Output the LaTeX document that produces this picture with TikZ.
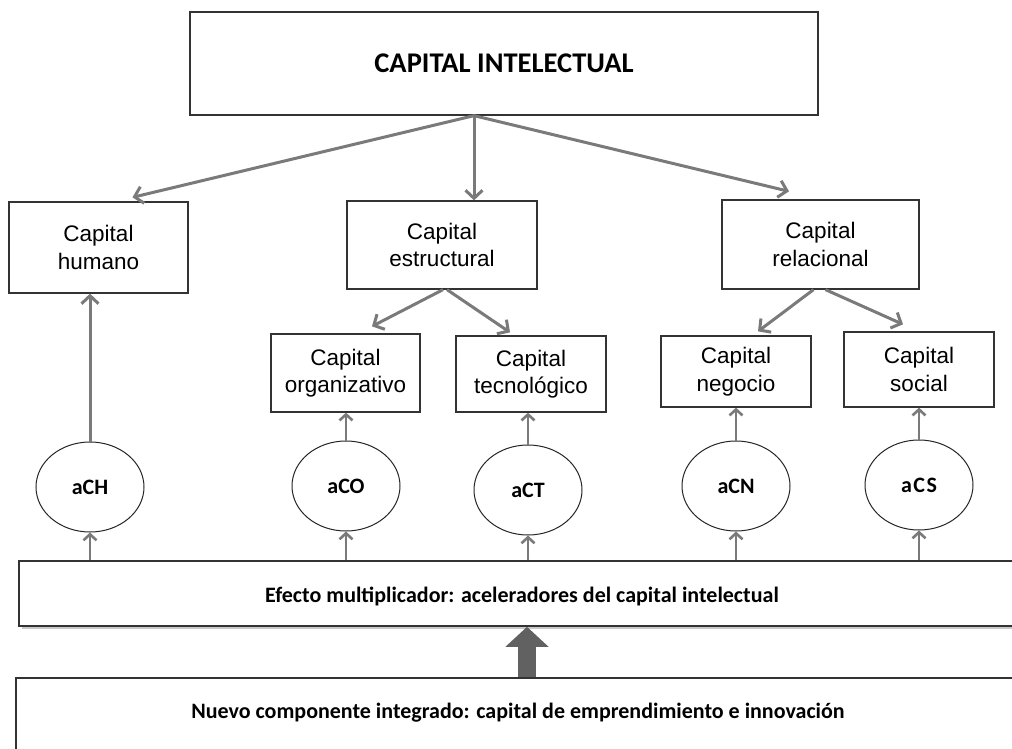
\documentclass[tikz,border=0pt]{standalone}
\usepackage{fontspec}
\setmainfont{Liberation Sans}
\newfontfamily\calfont{Carlito}
\usetikzlibrary{arrows.meta,shapes.geometric,shadows}

\tikzset{
  box/.style={draw=black!80, line width=1.3pt, fill=white, align=center,
    inner sep=0pt, font=\fontsize{22.5}{27.5}\selectfont},
  acc/.style={ellipse, draw=black!85, line width=1pt, fill=white,
    minimum width=108pt, minimum height=90pt, inner sep=0pt,
    font=\calfont\bfseries\fontsize{22}{26}\selectfont},
  band/.style={draw=black!80, line width=1.6pt, fill=white, inner sep=0pt},
  bandtext/.style={font=\calfont\bfseries\fontsize{22}{26}\selectfont},
  conn/.style={draw=black!52, line width=3pt,
    -{Straight Barb[length=8pt,width=17pt,line width=3pt]}},
  feed/.style={draw=black!52, line width=2.6pt,
    -{Straight Barb[length=6pt,width=13pt,line width=2.6pt]}},
  bigarrow/.style={draw=black!62, line width=18pt,
    -{Triangle[length=20pt,width=42pt]}},
}

\begin{document}
\begin{tikzpicture}[x=1pt,y=-1pt]
  \useasboundingbox (0,0) rectangle (1012,749);
  \clip (0,0) rectangle (1012,749);
  \fill[white] (0,0) rectangle (1012,749);

  % top level
  \node[box, minimum width=628pt, minimum height=103pt,
        font=\calfont\bfseries\fontsize{28.5}{32}\selectfont]
        (ci) at (504,63.5) {CAPITAL INTELECTUAL};

  % main components
  \node[box, minimum width=179pt, minimum height=91pt] (hum) at (98.5,247.5) {Capital\\humano};
  \node[box, minimum width=190pt, minimum height=88pt] (est) at (442,245) {Capital\\estructural};
  \node[box, minimum width=197pt, minimum height=89pt] (rel) at (820.5,244.5) {Capital\\relacional};

  % sub-components
  \node[box, minimum width=149pt, minimum height=78pt] (org) at (345.5,373) {Capital\\organizativo};
  \node[box, minimum width=150pt, minimum height=76pt] (tec) at (531,374) {Capital\\tecnológico};
  \node[box, minimum width=150pt, minimum height=71pt] (neg) at (736,371.5) {Capital\\negocio};
  \node[box, minimum width=150pt, minimum height=75pt] (soc) at (919,369.5) {Capital\\social};

  % accelerators
  \node[acc] (aCH) at (90,487) {aCH};
  \node[acc] (aCO) at (346,486) {aCO};
  \node[acc] (aCT) at (528,490) {aCT};
  \node[acc] (aCN) at (736,486) {aCN};
  \node[acc] (aCS) at (919,485) {a\kern1.5pt C\kern1.5pt S};

  % multiplier band and new component
  \node[band, minimum width=1006pt, minimum height=65pt,
        drop shadow={shadow xshift=3pt, shadow yshift=-3pt, opacity=0.35, fill=black!60}]
        (mult) at (522,593.5) {};
  \node[bandtext] (multt) at (522,596)
        {Efecto multiplicador: aceleradores del capital intelectual};
  \node[band, minimum width=1004pt, minimum height=90pt] (bot) at (518,723) {};
  \node[bandtext] (bott) at (518,713)
        {Nuevo componente integrado: capital de emprendimiento e innovación};

  % hierarchy connectors
  \draw[conn] ([xshift=-30pt]ci.south) -- ([xshift=34pt,yshift=4pt]hum.north);
  \draw[conn] ([xshift=-30pt]ci.south) -- ([xshift=32pt]est.north);
  \draw[conn] ([xshift=-30pt]ci.south) -- ([xshift=-31.5pt,yshift=8pt]rel.north);
  \draw[conn] ([xshift=1pt]est.south) -- ([xshift=26.5pt,yshift=7pt]org.north);
  \draw[conn] ([xshift=5pt]est.south) -- ([xshift=-21pt,yshift=3pt]tec.north);
  \draw[conn] ([xshift=-7pt]rel.south) -- ([xshift=22pt,yshift=4pt]neg.north);
  \draw[conn] ([xshift=5pt]rel.south) -- ([xshift=-16pt,yshift=7pt]soc.north);

  % accelerators feeding the components
  \draw[conn] (aCH.north) -- (aCH.north |- hum.south);
  \foreach \a/\b in {aCO/org, aCT/tec, aCN/neg, aCS/soc}
    \draw[feed] (\a.north) -- (\a.north |- \b.south);

  % multiplier feeding the accelerators
  \foreach \a in {aCH, aCO, aCT, aCN, aCS}
    \draw[feed] (\a.south |- mult.north) -- (\a.south);

  % new component feeding the multiplier
  \draw[bigarrow] ([xshift=9pt]bot.north) -- ([xshift=9pt]bot.north |- mult.south);
\end{tikzpicture}
\end{document}
